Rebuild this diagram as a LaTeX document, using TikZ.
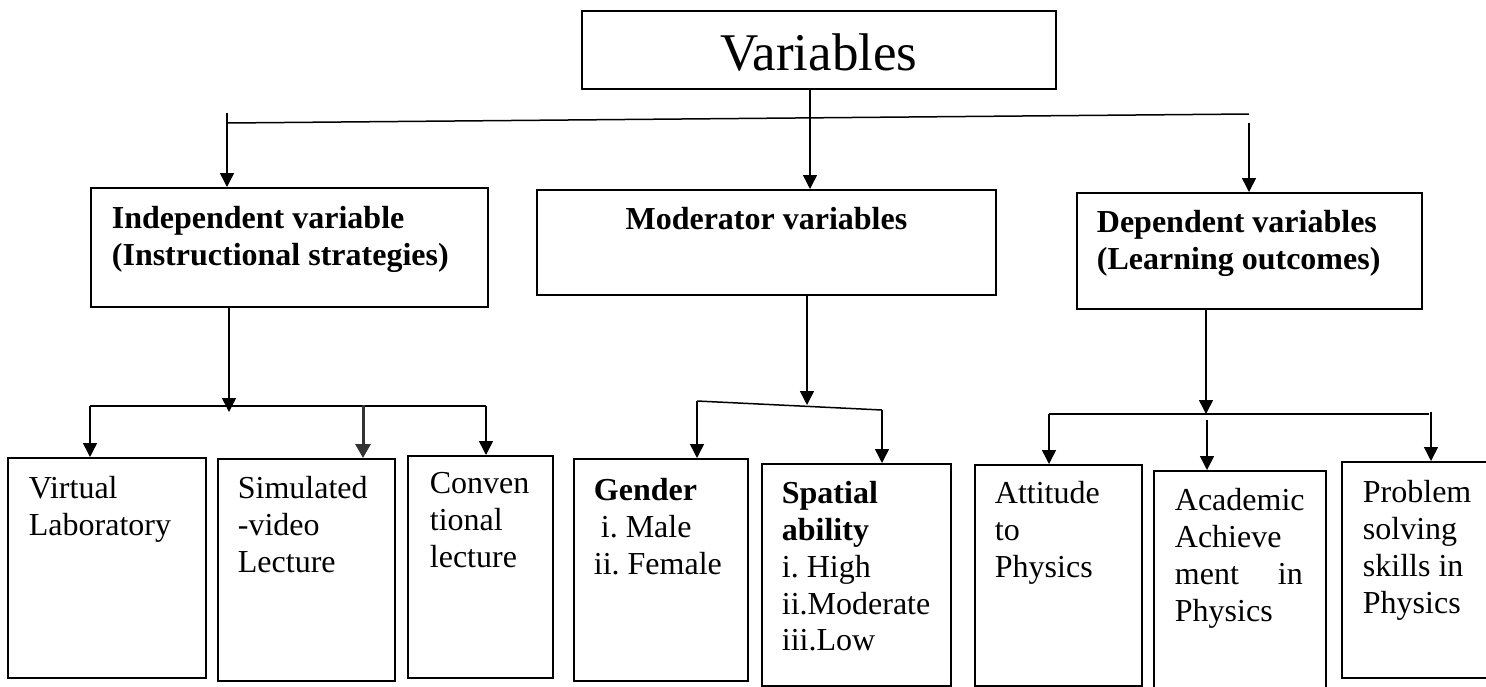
\documentclass[tikz,border=0pt]{standalone}
\usepackage{fontspec}
\setmainfont{Liberation Serif}
\usetikzlibrary{arrows.meta}
\hyphenpenalty=10000
\exhyphenpenalty=10000
\frenchspacing

\tikzset{
  vbox/.style={draw,line width=1.8pt,anchor=north west,inner ysep=0pt},
  leaf/.style={vbox,inner xsep=21pt,align=flush left,font={\fontsize{32}{36.7}\selectfont}},
  head/.style={leaf,font={\fontsize{32}{37}\selectfont\bfseries}},
  ln/.style={line width=1.5pt},
  arr/.style={line width=1.5pt,-{Triangle[length=14pt,width=14pt]}}
}

\begin{document}
\begin{tikzpicture}[x=1pt,y=-1pt]
\useasboundingbox (0,0) rectangle (1486,686);
% top
\node[vbox,inner xsep=0pt,minimum width=474pt,text height=60pt,text depth=18pt,font={\fontsize{53}{60}\selectfont}] (var) at (581,10) {Variables};
% middle row
\node[head,minimum width=397pt,text width=355pt,text height=41pt,text depth=78pt] (iv) at (90,187) {Independent variable\\(Instructional strategies)};
\node[head,align=center,inner xsep=0pt,minimum width=459pt,text height=40pt,text depth=65pt] (mv) at (536,189) {Moderator variables};
\node[head,inner xsep=20pt,minimum width=345pt,text width=305pt,text height=40pt,text depth=76pt] (dv) at (1076,192) {Dependent variables\\(Learning outcomes)};
% bottom row
\node[leaf,minimum width=198pt,text width=156pt,text height=41pt,text depth=179pt] (vl) at (7,457) {Virtual\\Laboratory};
\node[leaf,inner xsep=20pt,minimum width=177pt,text width=137pt,text height=40pt,text depth=182pt] (sv) at (217,458) {Simulated\\-video\\Lecture};
\node[leaf,inner xsep=22pt,minimum width=145pt,text width=101pt,text height=38pt,text depth=184pt] (cl) at (407,455) {Conven\\tional\\lecture};
\node[leaf,inner xsep=20pt,minimum width=174pt,text width=134pt,text height=42pt,text depth=180pt] (gd) at (573,458) {\textbf{Gender}\\\hspace*{7pt}i. Male\\ii. Female};
\node[leaf,inner xsep=20pt,minimum width=189pt,text width=149pt,text height=40pt,text depth=182pt] (sp) at (761,463) {\textbf{Spatial}\\\textbf{ability}\\i. High\\ii.Moderate\\iii.Low};
\node[leaf,inner xsep=20pt,minimum width=167pt,text width=127pt,text height=39pt,text depth=182pt] (at) at (974,464) {Attitude\\to\\Physics};
\node[leaf,inner xsep=21pt,minimum width=172pt,text width=130pt,text height=40pt,text depth=180pt] (ac) at (1153,470) {Academic\\Achieve\\ment\hspace{39pt}in\\Physics};
\node[leaf,inner xsep=21pt,minimum width=200pt,text width=158pt,text height=41pt,text depth=175pt] (pb) at (1341,461) {Problem\\solving\\skills in\\Physics};

% first split
\coordinate (b0l) at (227,123);
\coordinate (b0r) at (1249,114);
\draw[ln] (b0l) -- (b0r);
\coordinate (a0) at (227,113);
\coordinate (a1) at (810,88);
\coordinate (a2) at (1249,123);
\draw[arr] (a0) -- (a0 |- iv.north);
\draw[arr] (a1) -- (a1 |- mv.north);
\draw[arr] (a2) -- (a2 |- dv.north);

% instructional strategies
\coordinate (c1) at (229,412);
\coordinate (b1l) at (90,406);
\coordinate (b1r) at (486,406);
\coordinate (c2) at (363,405);
\draw[arr] (iv.south -| c1) -- (c1);
\draw[ln] (b1l) -- (b1r);
\draw[arr] (b1l) -- (b1l |- vl.north);
\draw[line width=3pt,black!80,-{Triangle[length=14pt,width=15pt]}] (c2) -- (c2 |- sv.north);
\draw[arr] (b1r) -- (b1r |- cl.north);

% moderators
\coordinate (c3) at (807,405);
\coordinate (b2l) at (697,401);
\coordinate (b2r) at (882,410);
\draw[arr] (mv.south -| c3) -- (c3);
\draw[ln] (b2l) -- (b2r);
\draw[arr] (b2l) -- (b2l |- gd.north);
\draw[arr] (b2r) -- (b2r |- sp.north);

% learning outcomes
\coordinate (c4) at (1206,414);
\coordinate (b3l) at (1049,414);
\coordinate (b3r) at (1429,414);
\coordinate (c5) at (1207,420);
\coordinate (c6) at (1431,412);
\draw[arr] (dv.south -| c4) -- (c4);
\draw[ln] (b3l) -- (b3r);
\draw[arr] (b3l) -- (b3l |- at.north);
\draw[arr] (c5) -- (c5 |- ac.north);
\draw[arr] (c6) -- (c6 |- pb.north);
\end{tikzpicture}
\end{document}
